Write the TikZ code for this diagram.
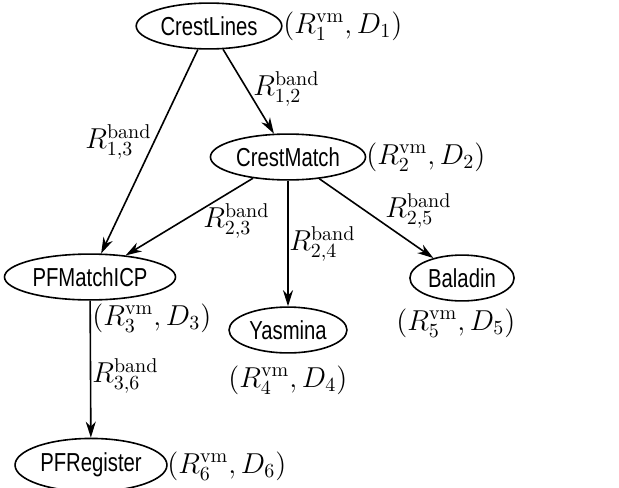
\documentclass[tikz,border=0pt]{standalone}
\usepackage{fontspec}
\setsansfont{Liberation Sans}[FakeStretch=0.78]
\usepackage{tikz}
\usetikzlibrary{arrows.meta}
\usetikzlibrary{shapes.geometric}
\tikzset{>={Stealth[length=8pt,width=5pt,inset=2.5pt]}}
\tikzstyle{alg} = [ellipse, draw, line width=0.8pt, inner xsep=1.5pt, minimum height=22pt, font=\sffamily\fontsize{13}{15}\selectfont]
\tikzstyle{lab} = [inner sep=0pt, anchor=west, font=\fontsize{14.4}{17}\selectfont]

\begin{document}
\begin{tikzpicture}[x=0.5pt, y=-0.5pt]
\useasboundingbox (0,0) rectangle (619,487);
% modules
\node [alg] (CL) at (209, 26) {CrestLines};
\node [alg] (CM) at (288, 157) {CrestMatch};
\node [alg] (PM) at (90, 277) {PFMatchICP};
\node [alg] (Ya) at (288, 330) {Yasmina};
\node [alg] (Ba) at (462, 278) {Baladin};
\node [alg] (PR) at (91, 465) {PFRegister};
% rate / distortion pairs
\node [lab] (cl) at (283, 26) {$(R_1^{\mathrm{vm}}, D_1)$};
\node [lab] (cm) at (366, 157) {$(R_2^{\mathrm{vm}}, D_2)$};
\node [lab] (pm) at (92, 318) {$(R_3^{\mathrm{vm}}, D_3)$};
\node [lab] (ya) at (228, 380) {$(R_4^{\mathrm{vm}}, D_4)$};
\node [lab] (ba) at (396, 323) {$(R_5^{\mathrm{vm}}, D_5)$};
\node [lab] (pr) at (167, 466) {$(R_6^{\mathrm{vm}}, D_6)$};
% links
\draw [->, line width=0.8pt] (CL) to (CM);
\draw [->, line width=0.8pt] (CL) to (PM);
\draw [->, line width=0.8pt] (CM) to (PM);
\draw [->, line width=0.8pt] (CM) to (Ya);
\draw [->, line width=0.8pt] (CM) to (Ba);
\draw [->, line width=0.8pt] (PM) to (PR);
\node [lab] (r12) at (253, 89) {$R_{1,2}^{\mathrm{band}}$};
\node [lab] (r13) at (85, 142) {$R_{1,3}^{\mathrm{band}}$};
\node [lab] (r23) at (203, 221) {$R_{2,3}^{\mathrm{band}}$};
\node [lab] (r24) at (289, 244) {$R_{2,4}^{\mathrm{band}}$};
\node [lab] (r25) at (385, 211) {$R_{2,5}^{\mathrm{band}}$};
\node [lab] (r36) at (92, 376) {$R_{3,6}^{\mathrm{band}}$};
\end{tikzpicture}
\end{document}
